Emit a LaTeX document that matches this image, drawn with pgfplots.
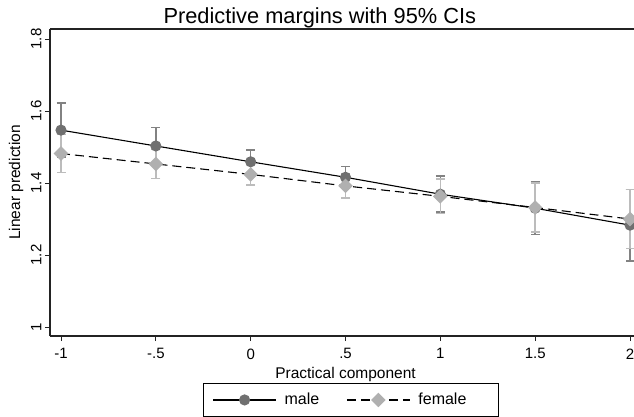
\documentclass[border=0pt]{standalone}
\usepackage{pgfplots}
\pgfplotsset{compat=1.18}
\usepackage{fontspec}
\setmainfont{Liberation Sans}

\definecolor{malecol}{RGB}{112,112,112}
\definecolor{maleci}{RGB}{130,130,130}
\definecolor{femcol}{RGB}{176,176,176}
\definecolor{femci}{RGB}{188,188,188}
\definecolor{axcol}{RGB}{35,35,35}

\begin{document}
\begin{tikzpicture}
\begin{axis}[
    scale only axis,
    width=584pt, height=307pt,
    xmin=-1.058, xmax=2.021,
    ymin=0.975, ymax=1.828,
    axis lines=left,
    axis line style={-, line width=1.2pt, axcol},
    tick align=outside,
    major tick length=5pt,
    tick style={line width=0.8pt, axcol},
    xtick={-1,-0.5,0,0.5,1,1.5,2},
    xticklabels={-1,-.5,0,.5,1,1.5,2},
    ytick={1,1.2,1.4,1.6,1.8},
    yticklabels={1,1.2,1.4,1.6,1.8},
    /pgf/number format/assume math mode=true,
    ticklabel style={font=\fontsize{15}{18}\selectfont},
    xticklabel style={yshift=-4pt},
    yticklabel style={rotate=90, anchor=south},
    title={Predictive margins with 95\% CIs},
    title style={font=\fontsize{21.8}{25}\selectfont, at={(axis description cs:0.462,1)}, anchor=base, yshift=-1pt},
    xlabel={Practical component},
    xlabel style={font=\fontsize{15.5}{18}\selectfont, at={(axis description cs:0.506,0)}, anchor=base, yshift=-42pt},
    ylabel={Linear prediction},
    ylabel style={font=\fontsize{15.5}{18}\selectfont, at={(axis description cs:-0.051,0.5)}, anchor=base},
    legend columns=2,
    legend style={at={(axis description cs:0.5154,-0.1531)}, anchor=north,
        draw=black, line width=0.8pt, font=\fontsize{16}{19}\selectfont,
        inner xsep=9pt, inner ysep=7pt,
        nodes={inner sep=3pt},
        /tikz/every odd column/.append style={column sep=5pt},
        /tikz/every even column/.append style={column sep=24pt}},
    legend cell align=left,
    legend image code/.code={
        \draw[mark repeat=2, mark phase=2, #1] plot coordinates {(0pt,0pt) (31.5pt,0pt) (63pt,0pt)};
    },
]

% confidence intervals (drawn first, under the lines)
\addplot[forget plot, only marks, mark=none,
    error bars/.cd, y dir=both, y explicit,
    error bar style={draw=maleci, line width=1.6pt},
    error mark options={draw=maleci, line width=1.6pt, mark size=4.5pt, rotate=90}]
    coordinates {
    (-1, 1.547) +- (0, 0.075)
    (-0.5, 1.503) +- (0, 0.051)
    (0, 1.459) +- (0, 0.033)
    (0.5, 1.416) +- (0, 0.030)
    (1, 1.369) +- (0, 0.050)
    (1.5, 1.330) +- (0, 0.073)
    (2, 1.283) +- (0, 0.099)
};
\addplot[forget plot, only marks, mark=none,
    error bars/.cd, y dir=both, y explicit,
    error bar style={draw=femci, line width=1.6pt},
    error mark options={draw=femci, line width=1.6pt, mark size=4.5pt, rotate=90}]
    coordinates {
    (-1, 1.482) +- (0, 0.053)
    (-0.5, 1.453) +- (0, 0.040)
    (0, 1.424) +- (0, 0.030)
    (0.5, 1.392) +- (0, 0.033)
    (1, 1.363) +- (0, 0.048)
    (1.5, 1.332) +- (0, 0.068)
    (2, 1.300) +- (0, 0.082)
};

% predicted margins
\addplot[black, line width=1.1pt, mark=*, mark size=5pt,
    mark options={solid, draw=malecol, fill=malecol}]
    coordinates {
    (-1, 1.547) (-0.5, 1.503) (0, 1.459) (0.5, 1.416)
    (1, 1.369) (1.5, 1.330) (2, 1.283)
};
\addlegendentry{male}
\addplot[black, line width=1.1pt, dash pattern=on 9pt off 5pt,
    mark=square*, mark size=4.6pt,
    mark options={solid, rotate=45, draw=femcol, fill=femcol}]
    coordinates {
    (-1, 1.482) (-0.5, 1.453) (0, 1.424) (0.5, 1.392)
    (1, 1.363) (1.5, 1.332) (2, 1.300)
};
\addlegendentry{female\rule{20pt}{0pt}}

\draw[line width=1.2pt, axcol] (rel axis cs:0,1) -- (rel axis cs:1,1);
\end{axis}
\pgfresetboundingbox
\path[use as bounding box] (-50pt,-81pt) rectangle (584pt,336pt);
\end{tikzpicture}
\end{document}
